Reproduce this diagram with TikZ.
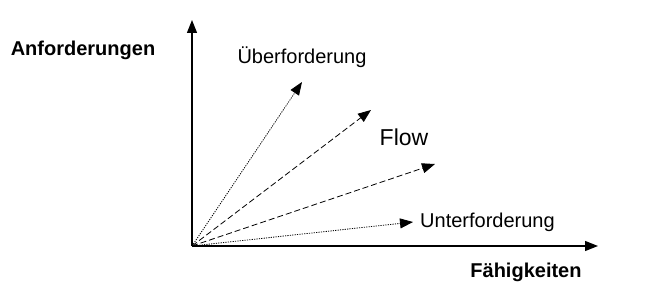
\documentclass[tikz,border=0pt]{standalone}
\usepackage{fontspec}
\setmainfont{Liberation Sans}
\usetikzlibrary{arrows.meta}
\begin{document}
\begin{tikzpicture}[x=1pt,y=-1pt,
  axis/.style={line width=1.3pt,-{Triangle[length=13pt,width=10pt]}},
  vec/.style={line width=0.8pt,-{Triangle[length=13pt,width=10pt]}},
  dotline/.style={dash pattern=on 1.2pt off 1.2pt},
  dashline/.style={dash pattern=on 6pt off 3pt},
  lbl/.style={font=\fontsize{20}{22}\selectfont, inner sep=0pt},
  blbl/.style={font=\fontsize{20}{22}\selectfont\bfseries, inner sep=0pt}]
\useasboundingbox (0,0) rectangle (649,299);
\coordinate (O) at (192,246);
\coordinate (ytip) at (192,20);
\coordinate (xtip) at (598,246);
\coordinate (t1) at (302,82);
\coordinate (t2) at (371,110);
\coordinate (t3) at (435,164);
\coordinate (t4) at (413,222);
\draw[axis] (O) -- (ytip);
\draw[axis] (O) -- (xtip);
\draw[vec,dotline] (O) -- (t1);
\draw[vec,dashline] (O) -- (t2);
\draw[vec,dashline] (O) -- (t3);
\draw[vec,dotline] (O) -- (t4);
\node[blbl] (anf) at (83,50) {Anforderungen};
\node[blbl] (fah) at (526,272) {Fähigkeiten};
\node[lbl] (ueb) at (302,57) {Überforderung};
\node[font=\fontsize{23}{26}\selectfont, inner sep=0pt] (flow) at (404,137) {Flow};
\node[lbl,anchor=west] (unt) at (420,222) {Unterforderung};
\end{tikzpicture}
\end{document}
